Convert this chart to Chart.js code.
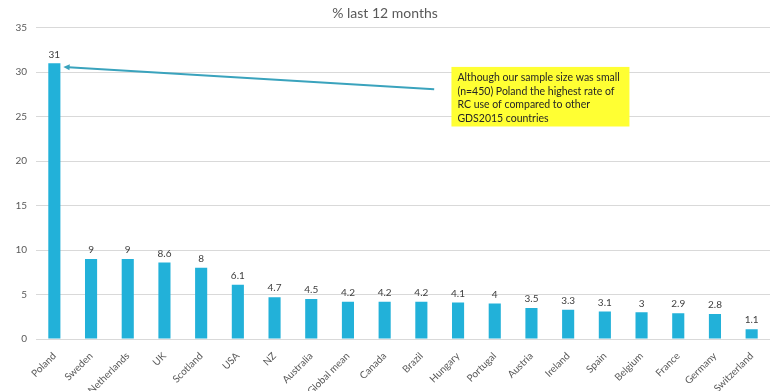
<!DOCTYPE html>
<html>
<head>
<meta charset="utf-8">
<script src="https://cdn.jsdelivr.net/npm/chart.js@4.4.1/dist/chart.umd.min.js"></script>
<style>
  html, body { margin: 0; padding: 0; background: #fff; }
  #wrap { width: 780px; height: 391px; }
</style>
</head>
<body>
<div id="wrap"><canvas id="chart" width="780" height="391"></canvas></div>
<script>
// Countries, in the order shown
const countries = [
  "Poland", "Sweden", "Netherlands", "UK", "Scotland", "USA", "NZ", "Australia",
  "Global mean", "Canada", "Brazil", "Hungary", "Portugal", "Austria", "Ireland",
  "Spain", "Belgium", "France", "Germany", "Switzerland"
];

// % last 12 months
const pctLast12 = [31, 9, 9, 8.6, 8, 6.1, 4.7, 4.5, 4.2, 4.2, 4.2, 4.1, 4, 3.5, 3.3, 3.1, 3, 2.9, 2.8, 1.1];

const yTicks = [0, 5, 10, 15, 20, 25, 30, 35];

const noteLines = [
  "Although our sample size was small",
  "(n=450) Poland the highest rate of",
  "RC use of compared to other",
  "GDS2015 countries"
];

const FONT = "Lato, 'Open Sans', sans-serif";
const BAR = "#22b1d9";

// value labels above bars
const valueLabels = {
  id: "valueLabels",
  afterDatasetsDraw(chart) {
    const ctx = chart.ctx;
    const meta = chart.getDatasetMeta(0);
    ctx.save();
    ctx.font = "10px " + FONT;
    ctx.fillStyle = "#404040";
    ctx.textAlign = "center";
    ctx.textBaseline = "bottom";
    meta.data.forEach((bar, i) => {
      ctx.fillText(String(pctLast12[i]), bar.x, bar.y - 4);
    });
    ctx.restore();
  }
};

// arrow + yellow note box
const note = {
  id: "note",
  afterDraw(chart) {
    const ctx = chart.ctx;
    const x = chart.scales.x;
    const y = chart.scales.y;
    const poland = chart.getDatasetMeta(0).data[0];

    const tipX = poland.x + 9;
    const tipY = y.getPixelForValue(30.6);
    const tailX = x.getPixelForValue(10.35);
    const tailY = y.getPixelForValue(28.1);

    ctx.save();
    ctx.strokeStyle = "#3aa3bd";
    ctx.fillStyle = "#3aa3bd";
    ctx.lineWidth = 2;
    ctx.beginPath();
    ctx.moveTo(tailX, tailY);
    ctx.lineTo(tipX + 5, tipY + 0.3);
    ctx.stroke();
    const ang = Math.atan2(tipY - tailY, tipX - tailX);
    ctx.beginPath();
    ctx.moveTo(tipX, tipY);
    ctx.lineTo(tipX - 7 * Math.cos(ang - 0.45), tipY - 7 * Math.sin(ang - 0.45));
    ctx.lineTo(tipX - 7 * Math.cos(ang + 0.45), tipY - 7 * Math.sin(ang + 0.45));
    ctx.closePath();
    ctx.fill();

    const bx = x.getPixelForValue(10.82);
    const by = y.getPixelForValue(30.6);
    const bw = x.getPixelForValue(15.67) - bx;
    const bh = y.getPixelForValue(23.9) - by;
    ctx.fillStyle = "#ffff33";
    ctx.fillRect(bx, by, bw, bh);

    ctx.fillStyle = "#262626";
    ctx.font = "10.5px " + FONT;
    ctx.textAlign = "left";
    ctx.textBaseline = "middle";
    noteLines.forEach((line, i) => {
      ctx.fillText(line, bx + 6, by + 11 + i * 13.5);
    });
    ctx.restore();
  }
};

new Chart(document.getElementById("chart"), {
  type: "bar",
  data: {
    labels: countries,
    datasets: [{
      data: pctLast12,
      backgroundColor: BAR,
      barPercentage: 0.33,
      categoryPercentage: 1
    }]
  },
  options: {
    responsive: false,
    animation: false,
    layout: { padding: { left: 0, right: 10, top: 0, bottom: 0 } },
    plugins: {
      legend: { display: false },
      tooltip: { enabled: false },
      title: {
        display: true,
        text: "% last 12 months",
        color: "#595959",
        font: { family: FONT, size: 14, weight: "normal" },
        padding: { top: 5, bottom: 6 }
      }
    },
    scales: {
      x: {
        grid: { display: false },
        border: { display: false },
        ticks: {
          color: "#595959",
          font: { family: FONT, size: 10 },
          maxRotation: 45,
          minRotation: 45,
          autoSkip: false
        },
        afterFit(axis) { axis.height = 52; }
      },
      y: {
        min: 0,
        max: 35,
        afterBuildTicks(axis) { axis.ticks = yTicks.map(v => ({ value: v })); },
        grid: { color: "#d9d9d9", drawTicks: false },
        border: { display: false },
        ticks: {
          color: "#595959",
          font: { family: FONT, size: 10 },
          padding: 9
        },
        afterFit(axis) { axis.width = 36; }
      }
    }
  },
  plugins: [valueLabels, note]
});
</script>
</body>
</html>
